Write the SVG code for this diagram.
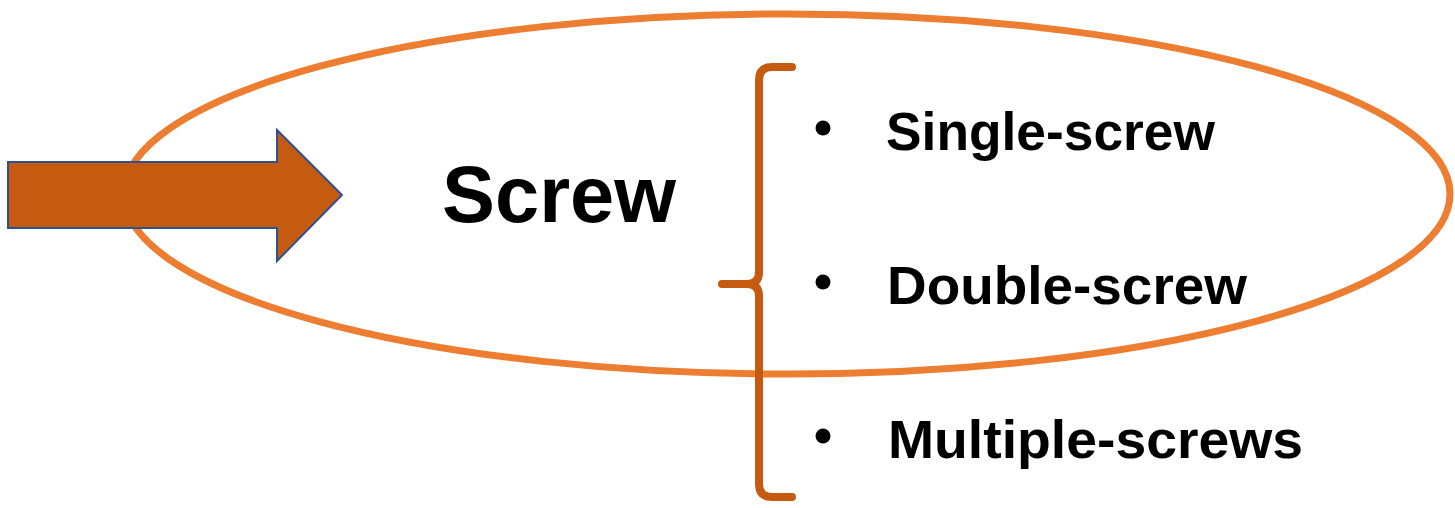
<svg xmlns="http://www.w3.org/2000/svg" width="1455" height="508" viewBox="0 0 1455 508">
<style>
.lbl{font-family:"Liberation Sans",Arial,sans-serif;font-weight:bold;fill:#000}
.item{font-size:54px}
.dot{fill:#000}
</style>
<rect width="1455" height="508" fill="#fff"/>
<g id="ellipse">
<ellipse cx="787" cy="194" rx="663" ry="180" fill="none" stroke="#ED7D31" stroke-width="7"/>
</g>
<g id="connectors">
<polygon points="8,162 277,162 277,130 342,195 277,261 277,228 8,228" fill="#C55A11" stroke="#2F528F" stroke-width="2"/>
<path d="M792 67 H772 Q759 67 759 80 V272 Q759 284 747 284 H722 M747 284 Q759 284 759 296 V484 Q759 497 772 497 H792" fill="none" stroke="#C55A11" stroke-width="8" stroke-linecap="round" stroke-linejoin="round"/>
</g>
<g id="screw">
<text class="lbl" x="442" y="222" font-size="79" textLength="234" lengthAdjust="spacingAndGlyphs">Screw</text>
</g>
<g id="single">
<circle class="dot" cx="823" cy="128" r="7.5"/>
<text class="lbl item" x="886" y="150" textLength="329" lengthAdjust="spacingAndGlyphs">Single-screw</text>
</g>
<g id="double">
<circle class="dot" cx="823" cy="282" r="7.5"/>
<text class="lbl item" x="887" y="304" textLength="360" lengthAdjust="spacingAndGlyphs">Double-screw</text>
</g>
<g id="multiple">
<circle class="dot" cx="823" cy="436" r="7.5"/>
<text class="lbl item" x="888" y="458" textLength="415" lengthAdjust="spacingAndGlyphs">Multiple-screws</text>
</g>
</svg>
